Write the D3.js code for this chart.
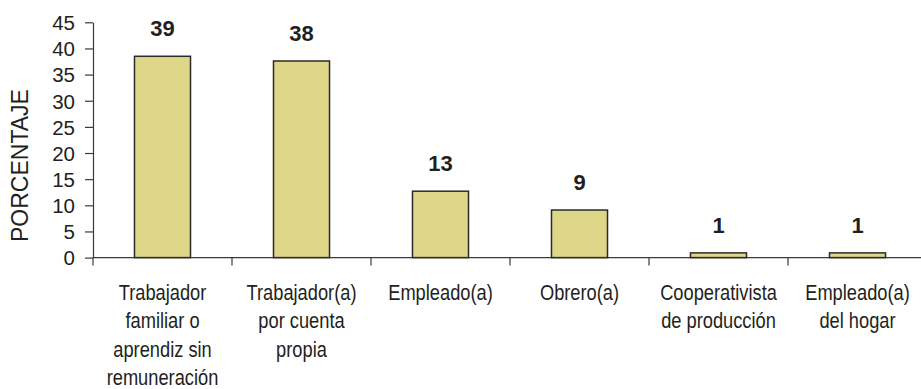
<!DOCTYPE html>
<html>
<head>
<meta charset="utf-8">
<script src="https://cdn.jsdelivr.net/npm/d3@7"></script>
<style>
  html, body { margin: 0; padding: 0; background: #fff; }
  svg { display: block; }
  text { font-family: "Liberation Sans", Arial, Helvetica, sans-serif; fill: #231f20; }
</style>
</head>
<body>
<svg id="chart" width="921" height="389"></svg>
<script>
const categories = [
  ["Trabajador", "familiar o", "aprendiz sin", "remuneración"],
  ["Trabajador(a)", "por cuenta", "propia"],
  ["Empleado(a)"],
  ["Obrero(a)"],
  ["Cooperativista", "de producción"],
  ["Empleado(a)", "del hogar"]
];
const values = [38.5, 37.6, 12.7, 9.1, 0.9, 0.9];
const valueLabels = ["39", "38", "13", "9", "1", "1"];
const yTicks = [0, 5, 10, 15, 20, 25, 30, 35, 40, 45];
const yTitle = "PORCENTAJE";

const svg = d3.select("#chart");
const plotLeft = 93, plotTop = 22.3, plotBottom = 257.6, step = 139;
const keys = categories.map((c, i) => i);

const x = d3.scaleBand()
  .domain(keys)
  .range([plotLeft, plotLeft + step * keys.length])
  .paddingInner(0.597)
  .paddingOuter(0.597 / 2)
  .align(0.5);

const y = d3.scaleLinear().domain([0, 45]).range([plotBottom, plotTop]);

const axisColor = "#3a3a3a";

// Y axis
const yAxis = svg.append("g")
  .attr("transform", `translate(${plotLeft},0)`)
  .call(d3.axisLeft(y).tickValues(yTicks).tickSize(8).tickPadding(10).tickSizeOuter(0));
yAxis.select(".domain").attr("stroke", axisColor).attr("stroke-width", 1.2);
yAxis.selectAll(".tick line").attr("stroke", axisColor).attr("stroke-width", 1.2);
yAxis.selectAll(".tick text")
  .attr("font-size", 20.5)
  .attr("fill", "#231f20")
  .attr("font-family", "'Liberation Sans', Arial, sans-serif")
  .attr("dy", "0.36em");

// X axis line
svg.append("line")
  .attr("x1", plotLeft).attr("x2", 921)
  .attr("y1", y(0)).attr("y2", y(0))
  .attr("stroke", axisColor).attr("stroke-width", 1.2);

// X category boundary ticks
const boundaries = d3.range(keys.length + 1).map(i => x.range()[0] + i * x.step());
svg.append("g").selectAll("line").data(boundaries).join("line")
  .attr("x1", d => d).attr("x2", d => d)
  .attr("y1", y(0)).attr("y2", y(0) + 8)
  .attr("stroke", axisColor).attr("stroke-width", 1.2);

// Bars
svg.append("g").selectAll("rect").data(values).join("rect")
  .attr("x", (d, i) => x(i))
  .attr("width", x.bandwidth())
  .attr("y", d => y(d))
  .attr("height", d => y(0) - y(d))
  .attr("fill", "#dfd788")
  .attr("stroke", "#2a2a2a")
  .attr("stroke-width", 1.5);

// Value labels
svg.append("g").selectAll("text").data(values).join("text")
  .attr("x", (d, i) => x(i) + x.bandwidth() / 2)
  .attr("y", d => y(d) - 20)
  .attr("text-anchor", "middle")
  .attr("font-size", 22)
  .attr("font-weight", "bold")
  .text((d, i) => valueLabels[i]);

// Category labels (condensed)
const catG = svg.append("g");
categories.forEach((lines, i) => {
  const cx = x(i) + x.bandwidth() / 2;
  const g = catG.append("g")
    .attr("transform", `translate(${cx},${y(0) + 42.5}) scale(0.85,1)`);
  lines.forEach((ln, j) => {
    g.append("text")
      .attr("x", 0)
      .attr("y", j * 28.4)
      .attr("text-anchor", "middle")
      .attr("font-size", 21.5)
      .text(ln);
  });
});

// Y title
svg.append("text")
  .attr("transform", `translate(28,165.5) rotate(-90)`)
  .attr("text-anchor", "middle")
  .attr("font-size", 23)
  .text(yTitle);
</script>
</body>
</html>
